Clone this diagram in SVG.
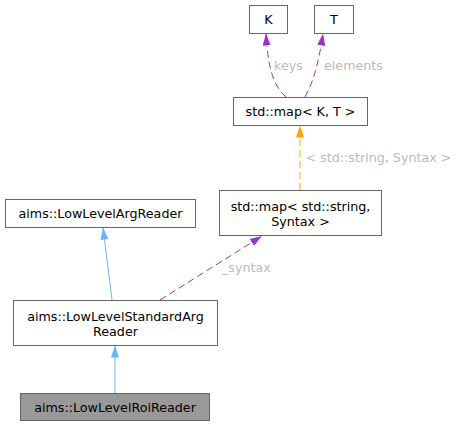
<svg xmlns="http://www.w3.org/2000/svg" width="458" height="426" viewBox="0 0 458 426">
<defs>
<style>
.n rect{fill:#fff;stroke:#666;stroke-width:1}
.n text{font-family:"DejaVu Sans",sans-serif;font-size:12.7px;fill:#000;text-anchor:middle}
.e path{fill:none;stroke-width:1}
.lbl{font-family:"DejaVu Sans",sans-serif;font-size:12.7px;fill:#bbb}
.blue{stroke:#63b8ff}
.purple{stroke:#9a32cd;stroke-dasharray:7,4}
.orange{stroke:#ffa500;stroke-dasharray:7,4}
</style>
<marker id="ab" viewBox="0 0 12 8" refX="12" refY="4" markerWidth="12" markerHeight="8" markerUnits="userSpaceOnUse" orient="auto"><path d="M0,0L12,4L0,8z" fill="#63b8ff" stroke="none"/></marker>
<marker id="ap" viewBox="0 0 12 8" refX="12" refY="4" markerWidth="12" markerHeight="8" markerUnits="userSpaceOnUse" orient="auto"><path d="M0,0L12,4L0,8z" fill="#9a32cd" stroke="none"/></marker>
<marker id="ao" viewBox="0 0 12 8" refX="12" refY="4" markerWidth="12" markerHeight="8" markerUnits="userSpaceOnUse" orient="auto"><path d="M0,0L12,4L0,8z" fill="#ffa500" stroke="none"/></marker>
</defs>
<rect width="458" height="426" fill="#fff"/>
<g id="edges" class="e">
<path class="blue" d="M115,393L115,345.5" marker-end="url(#ab)"/>
<path class="blue" d="M112,300L103,227.5" marker-end="url(#ab)"/>
<path class="purple" d="M160,300L262,236" marker-end="url(#ap)"/>
<text class="lbl" x="222" y="272">_syntax</text>
<path class="orange" d="M300,190L300,125.5" marker-end="url(#ao)"/>
<text class="lbl" x="305.5" y="161.5">&lt; std::string, Syntax &gt;</text>
<path class="purple" d="M286,97C276,88 268,74 266,33.5" marker-end="url(#ap)"/>
<text class="lbl" x="274" y="69.5">keys</text>
<path class="purple" d="M305,97C312,84 318,68 323,33.5" marker-end="url(#ap)"/>
<text class="lbl" x="324" y="69.5">elements</text>
</g>
<g id="K" class="n"><rect x="249.5" y="5.5" width="38" height="28"/><text x="268.5" y="24">K</text></g>
<g id="T" class="n"><rect x="314.5" y="5.5" width="39" height="28"/><text x="334" y="24">T</text></g>
<g id="mapKT" class="n"><rect x="233.5" y="97.5" width="134" height="28"/><text x="300.5" y="116">std::map&lt; K, T &gt;</text></g>
<g id="mapSS" class="n"><rect x="219.5" y="190.5" width="162" height="45"/><text x="300.5" y="210.5">std::map&lt; std::string,</text><text x="300.5" y="225.5">Syntax &gt;</text></g>
<g id="ArgReader" class="n"><rect x="5.5" y="199.5" width="190" height="28"/><text x="100.5" y="217.5">aims::LowLevelArgReader</text></g>
<g id="StdArgReader" class="n"><rect x="13.5" y="300.5" width="204" height="45"/><text x="115.5" y="320.5">aims::LowLevelStandardArg</text><text x="115.5" y="335.5">Reader</text></g>
<g id="RoiReader" class="n"><rect x="20.5" y="393.5" width="189" height="27" style="fill:#999"/><text x="115" y="411.5">aims::LowLevelRoiReader</text></g>
</svg>
